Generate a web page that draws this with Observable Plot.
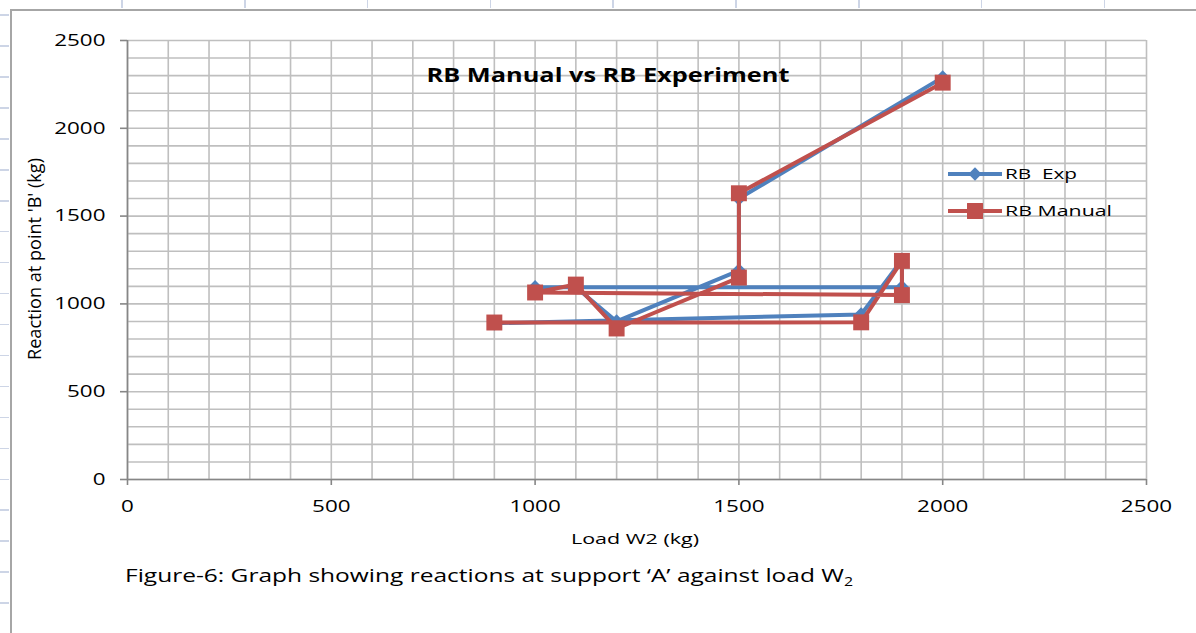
<!DOCTYPE html>
<html><head><meta charset="utf-8">
<script src="https://cdn.jsdelivr.net/npm/d3@7"></script>
<script src="https://cdn.jsdelivr.net/npm/@observablehq/plot@0.6"></script>
<style>
body{margin:0;background:#fff;}
#page{position:relative;width:1196px;height:633px;overflow:hidden;font-family:"Open Sans",sans-serif;background:#fff;}
#border{position:absolute;left:10px;top:9px;right:-2px;bottom:-2px;border-left:2px solid #a6a6a6;border-top:2px solid #a6a6a6;}
#rowmarks{position:absolute;left:0;top:0;width:9px;height:633px;
 background:repeating-linear-gradient(to bottom,transparent 0px,transparent 14.3px,#cdd5e6 14.3px,#cdd5e6 15.8px,transparent 15.8px,transparent 30.95px);}
#colmarks{position:absolute;left:0;top:0;width:1196px;height:8px;
 background:repeating-linear-gradient(to right,transparent 0px,transparent 121.2px,#cdd5e6 121.2px,#cdd5e6 122.8px,transparent 122.8px,transparent 121.9px);}
#chart{position:absolute;left:0;top:0;}
#overlay{position:absolute;left:0;top:0;pointer-events:none;}
</style></head>
<body><div id="page"><div id="rowmarks"></div><div id="colmarks"></div><div id="border"></div><div id="chart"></div></div>
<script>
// ---- data ----
const loadW2   = [900, 1800, 1900, 1900, 1000, 1100, 1200, 1500, 1500, 2000];
const rbExp    = [890,  940, 1250, 1095, 1095, 1095,  900, 1190, 1600, 2290];
const rbManual = [894,  895, 1245, 1050, 1065, 1110,  860, 1150, 1630, 2260];
const seriesNames = ["RB  Exp", "RB Manual"];
const seriesColors = ["#4f81bd", "#c0504d"];
const xTicks = [0, 500, 1000, 1500, 2000, 2500];
const yTicks = [0, 500, 1000, 1500, 2000, 2500];
const gridStep = 100;
const titleText = "RB Manual vs RB Experiment";
const xLabel = "Load W2 (kg)";
const yLabel = "Reaction at point 'B' (kg)";
const captionMain = "Figure-6: Graph showing reactions at support \u2018A\u2019 against load W";
const captionSub = "2";

const expData = loadW2.map((x, i) => ({x, y: rbExp[i], s: seriesNames[0]}));
const manData = loadW2.map((x, i) => ({x, y: rbManual[i], s: seriesNames[1]}));
const gridVals = d3.range(0, 2500 + 1, gridStep);

const FONT = '"Open Sans", sans-serif';
const plot = Plot.plot({
  width: 1196, height: 633,
  marginLeft: 127, marginRight: 50, marginTop: 40, marginBottom: 154,
  x: {domain: [0, 2500]},
  y: {domain: [0, 2500]},
  style: {fontFamily: FONT, fontSize: "16.5px", color: "#000", background: "transparent", overflow: "visible"},
  marks: [
    Plot.gridX(gridVals, {stroke: "#bfbfbf", strokeOpacity: 1, strokeWidth: 1.6}),
    Plot.gridY(gridVals, {stroke: "#bfbfbf", strokeOpacity: 1, strokeWidth: 1.6}),
    Plot.ruleX([0], {stroke: "#868686", strokeWidth: 1.6}),
    Plot.ruleY([0], {stroke: "#868686", strokeWidth: 1.6}),
    Plot.axisY(yTicks, {tickSize: 7, tickPadding: 15, stroke: "#868686", strokeWidth: 1.6, label: null, tickFormat: d => String(d)}),
    Plot.axisX(xTicks, {tickSize: 6, tickPadding: 15, stroke: "#868686", strokeWidth: 1.6, label: null, tickFormat: d => String(d)}),
    Plot.line(expData, {x: "x", y: "y", stroke: seriesColors[0], strokeWidth: 4}),
    Plot.dot(expData, {x: "x", y: "y", symbol: "diamond2", r: 6.5, fill: seriesColors[0], stroke: "none"}),
    Plot.line(manData, {x: "x", y: "y", stroke: seriesColors[1], strokeWidth: 4}),
    Plot.dot(manData, {x: "x", y: "y", symbol: "square", r: 9, fill: seriesColors[1], stroke: "none"})
  ]
});
document.getElementById("chart").appendChild(plot);

// horizontal stretch of tick labels (reference text is horizontally stretched)
for (const t of plot.querySelectorAll('g[aria-label$="tick label"] text')) {
  const w = t.getComputedTextLength();
  t.setAttribute("textLength", (w * 1.36).toFixed(1));
  t.setAttribute("lengthAdjust", "spacingAndGlyphs");
}

// overlay: title, axis labels, legend, caption
const NS = "http://www.w3.org/2000/svg";
const ov = document.createElementNS(NS, "svg");
ov.setAttribute("id", "overlay"); ov.setAttribute("width", 1196); ov.setAttribute("height", 633);
document.getElementById("page").appendChild(ov);
function txt(str, attrs, len) {
  const t = document.createElementNS(NS, "text");
  t.textContent = str;
  t.setAttribute("font-family", FONT);
  for (const k in attrs) t.setAttribute(k, attrs[k]);
  ov.appendChild(t);
  if (len) { t.setAttribute("textLength", len); t.setAttribute("lengthAdjust", "spacingAndGlyphs"); }
  return t;
}
txt(titleText, {x: 608, y: 82, "text-anchor": "middle", "font-size": 20, "font-weight": "bold", fill: "#000"}, 363);
txt(xLabel, {x: 635, y: 544, "text-anchor": "middle", "font-size": 15, fill: "#000"}, 128);
txt(yLabel, {x: 0, y: 0, "text-anchor": "middle", "font-size": 14.5, fill: "#000",
  transform: "translate(40.5,259) scale(1.3,1) rotate(-90)"}, 202);
const cap = txt(captionMain, {x: 125, y: 582, "font-size": 18.5, fill: "#000"});
const sub = document.createElementNS(NS, "tspan");
sub.textContent = captionSub; sub.setAttribute("font-size", 12); sub.setAttribute("dy", 4);
cap.appendChild(sub);
cap.setAttribute("textLength", 728); cap.setAttribute("lengthAdjust", "spacingAndGlyphs");

// legend
const legY = [174, 211];
const legLen = [72, 107];
seriesNames.forEach((name, i) => {
  const g = document.createElementNS(NS, "g");
  const ln = document.createElementNS(NS, "line");
  ln.setAttribute("x1", 948); ln.setAttribute("x2", 1002);
  ln.setAttribute("y1", legY[i]); ln.setAttribute("y2", legY[i]);
  ln.setAttribute("stroke", seriesColors[i]); ln.setAttribute("stroke-width", 4);
  g.appendChild(ln);
  const sym = document.createElementNS(NS, "path");
  const sz = i === 0 ? Math.PI * 6 * 6 : Math.PI * 9 * 9;
  sym.setAttribute("d", d3.symbol(i === 0 ? d3.symbolDiamond2 : d3.symbolSquare, sz)());
  sym.setAttribute("transform", `translate(975,${legY[i]})`);
  sym.setAttribute("fill", seriesColors[i]);
  g.appendChild(sym);
  ov.appendChild(g);
  const t = txt(name, {x: 1005, y: legY[i] + 5, "font-size": 14, fill: "#000"}, legLen[i]);
  t.setAttribute("xml:space", "preserve");
  t.style.whiteSpace = "pre";
});
</script>
</body></html>
